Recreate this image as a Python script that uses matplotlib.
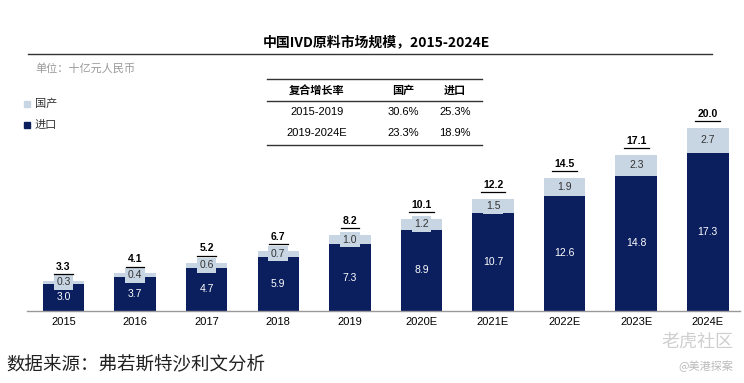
import numpy as np
import matplotlib
matplotlib.use("Agg")
import matplotlib.pyplot as plt
from matplotlib.lines import Line2D
from matplotlib.patches import Rectangle
from matplotlib.transforms import offset_copy

plt.rcParams['font.family'] = ['Noto Sans CJK SC', 'DejaVu Sans']

# data
years = ["2015", "2016", "2017", "2018", "2019", "2020E", "2021E", "2022E", "2023E", "2024E"]
imported = [3.0, 3.7, 4.7, 5.9, 7.3, 8.9, 10.7, 12.6, 14.8, 17.3]
domestic = [0.3, 0.4, 0.6, 0.7, 1.0, 1.2, 1.5, 1.9, 2.3, 2.7]
totals = ["3.3", "4.1", "5.2", "6.7", "8.2", "10.1", "12.2", "14.5", "17.1", "20.0"]

cagr_header = ["复合增长率", "国产", "进口"]
cagr_rows = [["2015-2019", "30.6%", "25.3%"],
             ["2019-2024E", "23.3%", "18.9%"]]

dark = "#0b1f5e"
light = "#c8d5e2"
num_font = ['Liberation Sans', 'DejaVu Sans']

W, H = 744, 383
fig = plt.figure(figsize=(W / 100, H / 100), dpi=100)

def fx(px):
    return px / W

def fy(py):
    return 1 - py / H

# bar axes
ax = fig.add_axes([fx(27), fy(311), fx(740) - fx(27), fy(100) - fy(311)])
x = np.arange(len(years))
ax.bar(x, imported, width=0.58, color=dark, zorder=2)
ax.bar(x, domestic, width=0.58, bottom=imported, color=light, zorder=2)
ax.set_xlim(-0.51, 9.45)
ax.set_ylim(0, 211 / 9.15)
for s in ["top", "right", "left"]:
    ax.spines[s].set_visible(False)
ax.spines["bottom"].set_color("#999999")
ax.spines["bottom"].set_linewidth(1.0)
ax.set_yticks([])
ax.set_xticks(x)
ax.set_xticklabels(years, fontsize=8, family=num_font)
ax.tick_params(axis="x", length=0, pad=4)

uline = offset_copy(ax.transData, fig=fig, x=0, y=5, units="points")

for i in range(len(years)):
    ax.text(i, imported[i] / 2, f"{imported[i]:.1f}", color="white", ha="center", va="center",
            fontsize=7.5, family=num_font, zorder=3)
    ax.text(i, imported[i] + domestic[i] / 2, f"{domestic[i]:.1f}", color="#333333", ha="center",
            va="center", fontsize=7.5, family=num_font, zorder=3,
            bbox=dict(boxstyle="square,pad=0.25", fc=light, ec="none"))
    top = imported[i] + domestic[i]
    ax.annotate(totals[i], (i, top), xytext=(0, 6.5), textcoords="offset points",
                ha="center", va="bottom", fontsize=7.5, fontweight="bold",
                family=num_font, zorder=3)
    half = 0.043 * len(totals[i])
    ax.plot([i - half, i + half], [top, top], color="black", lw=0.9,
            transform=uline, clip_on=False, zorder=3)

# title and rule
fig.text(fx(376), fy(42), "中国IVD原料市场规模，2015-2024E", ha="center", va="center",
         fontsize=10, fontweight="bold")
fig.add_artist(Line2D([fx(28), fx(712)], [fy(54), fy(54)], color="#333333", lw=1.0))
fig.text(fx(35), fy(68), "单位：十亿元人民币", ha="left", va="center", fontsize=8, color="#999999")

# legend
fig.add_artist(Rectangle((fx(24), fy(107)), fx(6), fy(101) - fy(107), color=light,
                         transform=fig.transFigure))
fig.text(fx(35), fy(104), "国产", ha="left", va="center", fontsize=8, color="#333333")
fig.add_artist(Rectangle((fx(24), fy(128)), fx(6), fy(122) - fy(128), color=dark,
                         transform=fig.transFigure))
fig.text(fx(35), fy(125), "进口", ha="left", va="center", fontsize=8, color="#333333")

# CAGR table
for yy in [79, 101, 145]:
    fig.add_artist(Line2D([fx(267), fx(482)], [fy(yy), fy(yy)], color="#333333", lw=1.0))
col_x = [317, 403, 455]
for cx, h in zip(col_x, cagr_header):
    fig.text(fx(cx), fy(90), h, ha="center", va="center", fontsize=8, fontweight="bold")
for ry, row in zip([112, 133], cagr_rows):
    for cx, v in zip(col_x, row):
        fig.text(fx(cx), fy(ry), v, ha="center", va="center", fontsize=8, family=num_font)

# source
fig.text(fx(6), fy(364), "数据来源：弗若斯特沙利文分析", ha="left", va="center", fontsize=13.3,
         color="#222222")

# watermarks
fig.text(fx(733), fy(342), "老虎社区", ha="right", va="center", fontsize=13, color="#cfcfcf")
fig.text(fx(733), fy(366), "@美港探案", ha="right", va="center", fontsize=8, color="#bbbbbb")

fig.savefig("out.png", dpi=100, facecolor="white")
